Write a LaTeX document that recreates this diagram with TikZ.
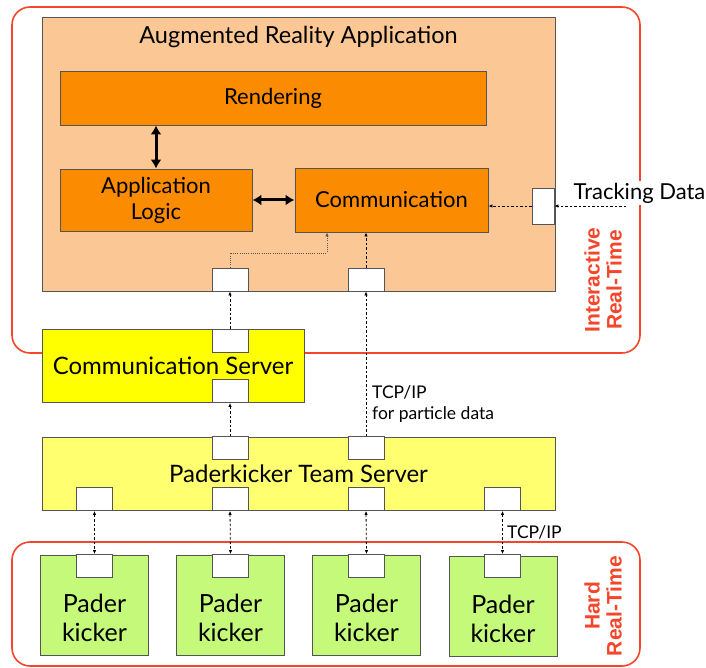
\documentclass[tikz,border=0pt]{standalone}
\usepackage{fontspec}
\setmainfont{Lato}
\newfontfamily\rtfont{Liberation Sans}
\usetikzlibrary{arrows.meta}

\definecolor{rtred}{HTML}{F5452A}
\definecolor{appbg}{HTML}{FBC895}
\definecolor{modfill}{HTML}{FB8B00}
\definecolor{csfill}{HTML}{FFFF00}
\definecolor{ptsfill}{HTML}{FFFF70}
\definecolor{kickfill}{HTML}{C5F97A}
\definecolor{edge}{HTML}{555555}

\tikzset{
  region/.style={draw=rtred, line width=1.6pt, rounded corners=18pt},
  box/.style={draw=edge, line width=0.9pt, inner sep=0pt, align=center},
  module/.style={box, fill=modfill, font=\fontsize{22}{26}\selectfont},
  port/.style={draw=edge, fill=white, line width=0.9pt, minimum width=36pt, minimum height=23pt, inner sep=0pt},
  kicker/.style={box, fill=kickfill, minimum width=108pt, minimum height=100pt},
  kicktext/.style={align=center, font=\fontsize{25}{29}\selectfont},
  link/.style={dash pattern=on 2.5pt off 2pt, line width=0.8pt, -{Latex[length=4pt,width=3.5pt]}},
  duallink/.style={link, {Latex[length=4pt,width=3.5pt]}-{Latex[length=4pt,width=3.5pt]}},
  biglink/.style={line width=3pt, {Latex[length=9pt,width=11pt]}-{Latex[length=9pt,width=11pt]}},
  rtlabel/.style={text=rtred, font=\rtfont\bfseries\fontsize{21}{22}\selectfont, rotate=90, align=center},
  note/.style={anchor=west, inner sep=0pt, font=\fontsize{17.5}{20}\selectfont},
}

\begin{document}
\begin{tikzpicture}[x=1pt,y=-1pt]
\useasboundingbox (0,0) rectangle (706,668);

% real-time regions
\draw[region] (12,7) rectangle (640,353);
\draw[region] (12,542) rectangle (640,666);
\node[rtlabel] (interactive) at (603,280) {Interactive\\Real-Time};
\node[rtlabel] (hard) at (603,606) {Hard\\Real-Time};

% augmented reality application
\node[box, fill=appbg, minimum width=513pt, minimum height=274pt] (ar) at (298.5,154) {};
\node[font=\fontsize{23.5}{26}\selectfont] (artitle) at (298.5,37) {Augmented Reality Application};
\node[module, minimum width=426pt, minimum height=54pt] (rendering) at (273,98) {Rendering};
\node[module, minimum width=192pt, minimum height=62pt] (logic) at (156,200) {Application\\Logic};
\node[module, minimum width=193pt, minimum height=64pt] (comm) at (391.5,200) {Communication};
\node[port, minimum width=22pt, minimum height=36pt] (tport) at (543,206) {};
\node[port] (arp1) at (230,279.5) {};
\node[port] (arp2) at (366,279.5) {};

\draw[biglink] (logic.north) -- (logic.north |- rendering.south);
\draw[biglink] (logic.east) -- (comm.west);

% tracking input
\node[fill=white, inner sep=2pt, font=\fontsize{22}{25}\selectfont] (track) at (639.5,193) {Tracking Data};
\coordinate (tsrc) at (626,206);
\draw[link] (tsrc) -- (tport.east);
\draw[link] (tport.west) -- (comm.east |- tport.west);

\coordinate (bend) at (327,253);
\draw[link, dash pattern=on 1pt off 1.2pt, draw=edge] (arp1.north) |- (bend) -- (bend |- comm.south);
\draw[link] (arp2.north) -- (arp2.north |- comm.south);

% communication server
\node[box, fill=csfill, minimum width=262pt, minimum height=73pt, font=\fontsize{24}{27}\selectfont] (cs) at (173,365.5) {Communication Server};
\node[port] (csp1) at (230,340.5) {};
\node[port] (csp2) at (230,391) {};
\draw[link] (csp1.north) -- (arp1.south);

% paderkicker team server
\node[box, fill=ptsfill, minimum width=513pt, minimum height=73pt, font=\fontsize{24}{27}\selectfont] (pts) at (298.5,473.5) {Paderkicker Team Server};
\node[port] (ptst1) at (230,448) {};
\node[port] (ptst2) at (366,448) {};
\node[port] (ptsb1) at (94.5,499) {};
\node[port] (ptsb2) at (230,499) {};
\node[port] (ptsb3) at (366,499) {};
\node[port] (ptsb4) at (502.5,499) {};
\draw[link] (ptst1.north) -- (csp2.south);
\draw[link] (ptst2.north) -- (arp2.south);
\node[note] (tcp) at (372,392) {TCP/IP};
\node[note] (particle) at (372,415) {for particle data};

% paderkickers
\node[kicker] (k1) at (94.5,605) {};
\node[kicker] (k2) at (230.5,605) {};
\node[kicker] (k3) at (366.5,605) {};
\node[kicker] (k4) at (503,606) {};
\node[port] (kp1) at (94.5,566) {};
\node[port] (kp2) at (230.5,566) {};
\node[port] (kp3) at (366.5,566) {};
\node[port] (kp4) at (502.5,566) {};
\node[kicktext] at ([yshift=-13pt]k1.center) {Pader\\kicker};
\node[kicktext] at ([yshift=-13pt]k2.center) {Pader\\kicker};
\node[kicktext] at ([yshift=-13pt]k3.center) {Pader\\kicker};
\node[kicktext] at ([yshift=-13pt]k4.center) {Pader\\kicker};
\draw[duallink] (ptsb1.south) -- (kp1.north);
\draw[duallink] (ptsb2.south) -- (kp2.north);
\draw[duallink] (ptsb3.south) -- (kp3.north);
\draw[duallink] (ptsb4.south) -- (kp4.north);
\node[note] (tcp2) at (507,532) {TCP/IP};
\end{tikzpicture}
\end{document}
